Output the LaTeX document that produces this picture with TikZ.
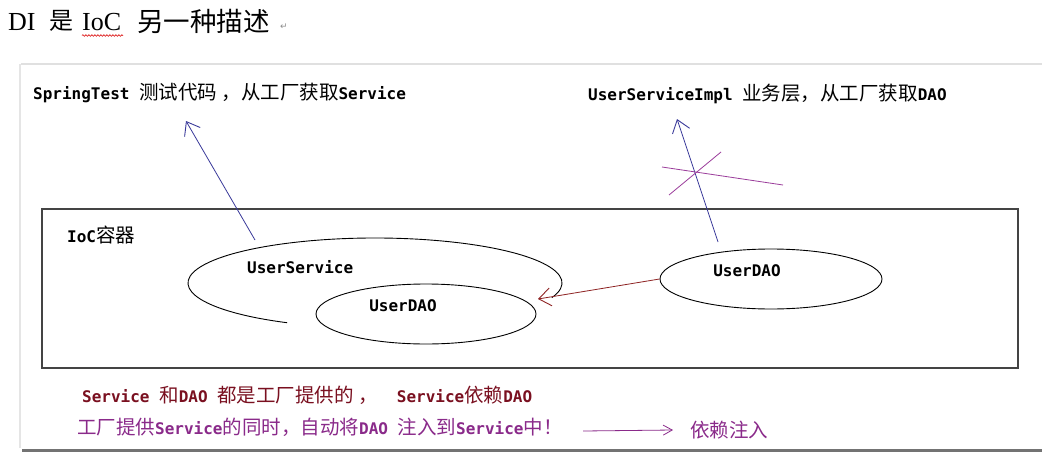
\documentclass[tikz,border=0pt]{standalone}
\usepackage{fontspec}
\setmainfont{Liberation Serif}
\newfontfamily\zh{Noto Sans CJK SC}
\newfontfamily\mn{DejaVu Sans Mono}
\newfontfamily\djv{DejaVu Sans}
\usetikzlibrary{arrows.meta,shapes.geometric,decorations.pathmorphing}
\definecolor{navyblue}{HTML}{3A3A9A}
\definecolor{darkred}{HTML}{8E2323}
\definecolor{txtred}{HTML}{7A1020}
\definecolor{purp}{HTML}{8A2A8A}
\definecolor{crossp}{HTML}{9B3C9B}
\definecolor{boxgray}{HTML}{444444}
\newcommand\M[1]{{\mn\bfseries #1}}
\newcommand\Z[1]{{\zh\fontsize{19.5}{21}\selectfont #1}}
\begin{document}
\begin{tikzpicture}[x=1pt,y=-1pt,
  lbl/.style={inner sep=0pt,anchor=west,font=\fontsize{16}{18}\selectfont},
  ttl/.style={inner sep=0pt,anchor=west,font=\fontsize{26}{30}\selectfont},
  ell/.style={draw=black,line width=0.9pt,ellipse,inner sep=0pt},
  barb/.style={-{Straight Barb[length=12pt,width=18pt,line width=0.9pt]}},
  smallbarb/.style={-{Straight Barb[length=9pt,width=10pt,line width=0.8pt]}}]
\useasboundingbox (0,0) rectangle (1042,453);
\fill[white] (0,0) rectangle (1042,453);
% frame of the picture
\draw[line width=2pt,black!12] (21,64) -- (1042,64);
\draw[line width=1.5pt,black!10] (20,64) -- (20,448);
\draw[line width=3pt,black!55] (22,450) -- (1042,450);
% title
\node[ttl] (t1) at (8,22) {DI};
\node[ttl,font=\zh\fontsize{24}{28}\selectfont] (t2) at (49,21) {是};
\node[ttl] (t3) at (82,22) {IoC};
\node[ttl,font=\zh\fontsize{26.5}{30}\selectfont] (t4) at (137,21) {另一种描述};
\node[inner sep=0pt,text=black!45,font=\djv\fontsize{9}{10}\selectfont] (ret) at (284,27) {↵};
\draw[red!85!black,line width=0.6pt,decorate,decoration={snake,amplitude=0.8pt,segment length=3pt}]
  (82,35.5) -- (123,35.5);
% top labels
\node[lbl] (spring) at (33,93) {\M{SpringTest }\Z{测试代码 ，从工厂获取}\M{Service}};
\node[lbl] (impl) at (588,94) {\M{UserServiceImpl }\Z{业务层，从工厂获取}\M{DAO}};
% IoC container
\draw[boxgray,line width=1.6pt] (42,209) rectangle (1018,368);
\node[lbl] (ioc) at (67,235) {\M{IoC}\Z{容器}};
% UserService open ellipse
\draw[black,line width=0.9pt] (375,283) ++(-19:187pt and 45pt)
  arc[start angle=-19,end angle=242,x radius=187pt,y radius=45pt];
\node[lbl] (svc) at (247,267) {\M{UserService}};
% inner UserDAO
\node[ell,minimum width=220pt,minimum height=60pt] (idao) at (426,314) {};
\node[lbl,anchor=center] (idaol) at (403,306) {\M{UserDAO}};
% right UserDAO
\node[ell,minimum width=222pt,minimum height=60pt] (rdao) at (771,279) {};
\node[lbl,anchor=center] (rdaol) at (747,271) {\M{UserDAO}};
% connectors
\coordinate (svctop) at (255,240);
\coordinate (springtip) at (186,121);
\coordinate (rdaotop) at (718,242);
\coordinate (impltip) at (677,119);
\coordinate (svcend) at (538,299);
\draw[navyblue,line width=0.8pt,barb] (svctop) -- (springtip);
\draw[navyblue,line width=0.8pt,barb] (rdaotop) -- (impltip);
\draw[darkred,line width=0.8pt,barb] (rdao.west) -- (svcend);
% purple cross
\draw[crossp,line width=0.8pt] (662,167) -- (783,185);
\draw[crossp,line width=0.8pt] (669,195) -- (721,152);
% bottom notes
\node[lbl,text=txtred] (note1) at (82,395)
  {\M{Service }\Z{和}\M{DAO }\Z{都是工厂提供的 ，}\M{\ \ Service}\Z{依赖}\M{DAO}};
\node[lbl,text=purp] (note2) at (77,427)
  {\Z{工厂提供}\M{Service}\Z{的同时，自动将}\M{DAO }\Z{注入到}\M{Service}\Z{中！}};
\node[lbl,text=purp] (di) at (690,430) {\Z{依赖注入}};
\coordinate (arrs) at (583,431);
\draw[purp,line width=0.8pt,smallbarb] (arrs) -- (di.west -| 673,0);
\end{tikzpicture}
\end{document}
